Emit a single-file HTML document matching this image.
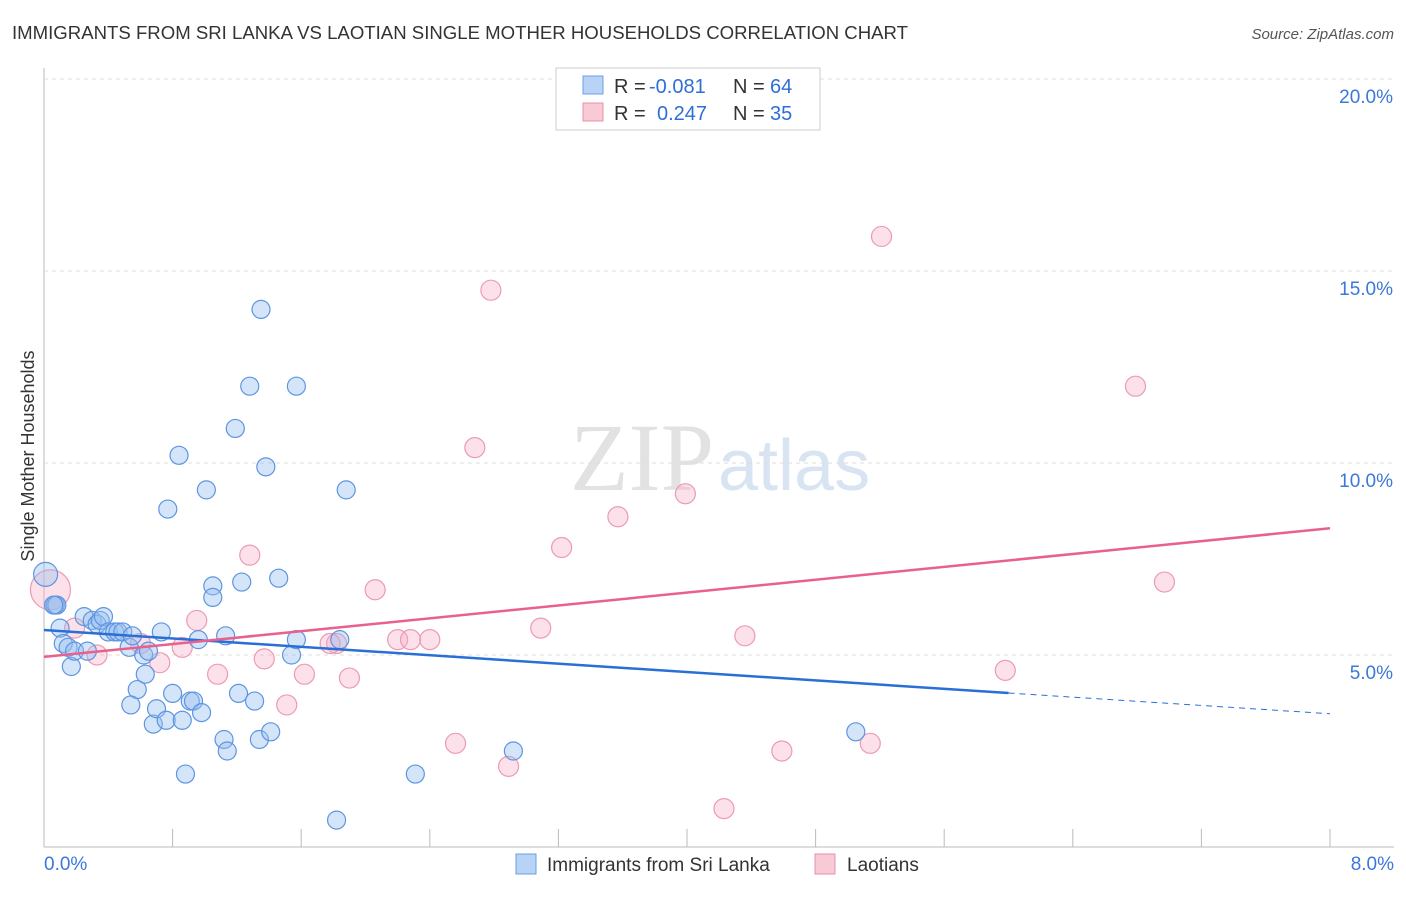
<!DOCTYPE html>
<html><head><meta charset="utf-8"><style>
body{margin:0;background:#fff;font-family:"Liberation Sans",sans-serif;}
</style></head><body>
<svg width="1406" height="892" xmlns="http://www.w3.org/2000/svg" id="svg">
<text x="12" y="39" font-size="18" fill="#333" textLength="896" lengthAdjust="spacingAndGlyphs">IMMIGRANTS FROM SRI LANKA VS LAOTIAN SINGLE MOTHER HOUSEHOLDS CORRELATION CHART</text>
<text x="1394" y="39" font-size="15" fill="#555" font-style="italic" text-anchor="end">Source: ZipAtlas.com</text>
<text x="34" y="456" font-size="18" fill="#333" transform="rotate(-90 34 456)" text-anchor="middle">Single Mother Households</text>
<text x="714" y="490" font-size="96" fill="#e2e2e2" text-anchor="end" font-family="Liberation Serif">ZIP</text>
<text x="718" y="490" font-size="72" fill="#d9e4f3">atlas</text>
<g id="grid"></g><g id="marks"></g>
<rect x="556" y="68" width="264" height="62" fill="#fff" stroke="#ccc"/>
<rect x="583" y="76" width="20" height="18" fill="#b8d3f5" stroke="#6a9fe0"/>
<rect x="583" y="103" width="20" height="18" fill="#f9c9d6" stroke="#e891aa"/>
<g font-size="20" fill="#333">
<text x="614" y="93">R =</text><text x="649" y="93" fill="#2f6fd4">-0.081</text><text x="733" y="93">N =</text><text x="770" y="93" fill="#2f6fd4">64</text>
<text x="614" y="120">R =</text><text x="657" y="120" fill="#2f6fd4">0.247</text><text x="733" y="120">N =</text><text x="770" y="120" fill="#2f6fd4">35</text>
</g>
<rect x="516" y="854" width="20" height="20" fill="#b8d3f5" stroke="#6a9fe0"/>
<text x="547" y="871" font-size="19" fill="#333">Immigrants from Sri Lanka</text>
<rect x="815" y="854" width="20" height="20" fill="#f9c9d6" stroke="#e891aa"/>
<text x="847" y="871" font-size="19" fill="#333">Laotians</text>
</svg>
<script>
const yTicks=[5,10,15,20];
const xTickLabels=["0.0%","8.0%"];
const blueX=[0.01,0.07,0.08,0.1,0.12,0.15,0.17,0.19,0.25,0.27,0.3,0.33,0.35,0.37,0.4,0.44,0.46,0.49,0.53,0.55,0.58,0.54,0.62,0.63,0.65,0.68,0.7,0.73,0.76,0.8,0.84,0.86,0.88,0.77,0.91,0.93,0.98,0.96,1.01,1.05,1.05,1.12,1.14,1.13,1.19,1.21,1.23,1.28,1.31,1.34,1.35,1.38,1.41,1.46,1.54,1.57,1.57,1.82,1.84,1.88,2.31,2.92,5.05,0.06];
const blueY=[7.1,6.3,6.3,5.7,5.3,5.2,4.7,5.1,6.0,5.1,5.9,5.8,5.9,6.0,5.6,5.6,5.6,5.6,5.2,5.5,4.1,3.7,5.0,4.5,5.1,3.2,3.6,5.6,3.3,4.0,10.2,3.3,1.9,8.8,3.8,3.8,3.5,5.4,9.3,6.8,6.5,2.8,2.5,5.5,10.9,4.0,6.9,12.0,3.8,2.8,14.0,9.9,3.0,7.0,5.0,12.0,5.4,0.7,5.4,9.3,1.9,2.5,3.0,6.3];
const pinkX=[0.04,0.19,0.33,0.6,0.72,0.86,0.95,1.08,1.28,1.37,1.51,1.62,1.82,1.9,2.06,2.2,2.28,2.4,2.56,2.68,2.78,2.89,3.09,3.22,3.57,3.99,4.23,4.36,4.59,5.14,5.21,5.98,6.79,6.97,1.78];
const pinkY=[6.7,5.7,5.0,5.3,4.8,5.2,5.9,4.5,7.6,4.9,3.7,4.5,5.3,4.4,6.7,5.4,5.4,5.4,2.7,10.4,14.5,2.1,5.7,7.8,8.6,9.2,1.0,5.5,2.5,2.7,15.9,4.6,12.0,6.9,5.3];
const pinkR=[20,10,10,10,10,10,10,10,10,10,10,10,10,10,10,10,10,10,10,10,10,10,10,10,10,10,10,10,10,10,10,10,10,10,10];
const blueTrend=[5.65,4.01,3.47], blueTrendX=[0,6.0,8.0];
const pinkTrend=[4.95,8.3], pinkTrendX=[0,8.0];
const X0=44,X1=1330,Y0=847,PY=38.4;
const sx=v=>X0+(X1-X0)*v/8, sy=v=>Y0-v*PY;
const NS="http://www.w3.org/2000/svg";
function mk(t,a,p){const e=document.createElementNS(NS,t);for(const k in a)e.setAttribute(k,a[k]);p.appendChild(e);return e;}
const grid=document.getElementById('grid'),marks=document.getElementById('marks');
let l=mk('line',{x1:X0,y1:68,x2:X0,y2:847,stroke:'#bbb'},grid);


l=mk('line',{x1:X0,y1:847,x2:1394,y2:847,stroke:'#bbb'},grid);


yTicks.forEach(v=>{
 const g=mk('line',{x1:X0,y1:sy(v),x2:1394,y2:sy(v),stroke:'#ddd','stroke-dasharray':'4 4'},grid);
 
 
 const t=mk('text',{x:1393,y:sy(v)+24,'font-size':19,fill:'#3b78d8','text-anchor':'end'},grid);
 t.textContent=v.toFixed(1)+'%';
 
 
});
for(let i=0;i<=10;i++){const tk=mk('line',{x1:sx(i*0.8),y1:829,x2:sx(i*0.8),y2:847,stroke:'#bbb'},grid);
 
 }
[[44,'start'],[1394,'end']].forEach((p,i)=>{const t=mk('text',{x:p[0],y:870,'font-size':19,fill:'#3b78d8','text-anchor':p[1]},grid);t.textContent=xTickLabels[i];
 
 });
pinkX.forEach((v,i)=>{const c=mk('circle',{cx:sx(v),cy:sy(pinkY[i]),r:pinkR[i],fill:'rgba(246,170,195,0.35)',stroke:'#ec9ab3','stroke-width':1.2},marks);
 
 });
blueX.forEach((v,i)=>{const c=mk('circle',{cx:sx(v),cy:sy(blueY[i]),r:i==0?12:9,fill:'rgba(150,190,240,0.4)',stroke:'#5d95e0','stroke-width':1.2},marks);
 
 });
l=mk('line',{x1:sx(blueTrendX[0]),y1:sy(blueTrend[0]),x2:sx(blueTrendX[1]),y2:sy(blueTrend[1]),stroke:'#2a6fd6','stroke-width':2.5},marks);


l=mk('line',{x1:sx(blueTrendX[1]),y1:sy(blueTrend[1]),x2:sx(blueTrendX[2]),y2:sy(blueTrend[2]),stroke:'#2a6fd6','stroke-width':1,'stroke-dasharray':'6 5'},marks);


l=mk('line',{x1:sx(pinkTrendX[0]),y1:sy(pinkTrend[0]),x2:sx(pinkTrendX[1]),y2:sy(pinkTrend[1]),stroke:'#e8618e','stroke-width':2.5},marks);


</script>
</body></html>
